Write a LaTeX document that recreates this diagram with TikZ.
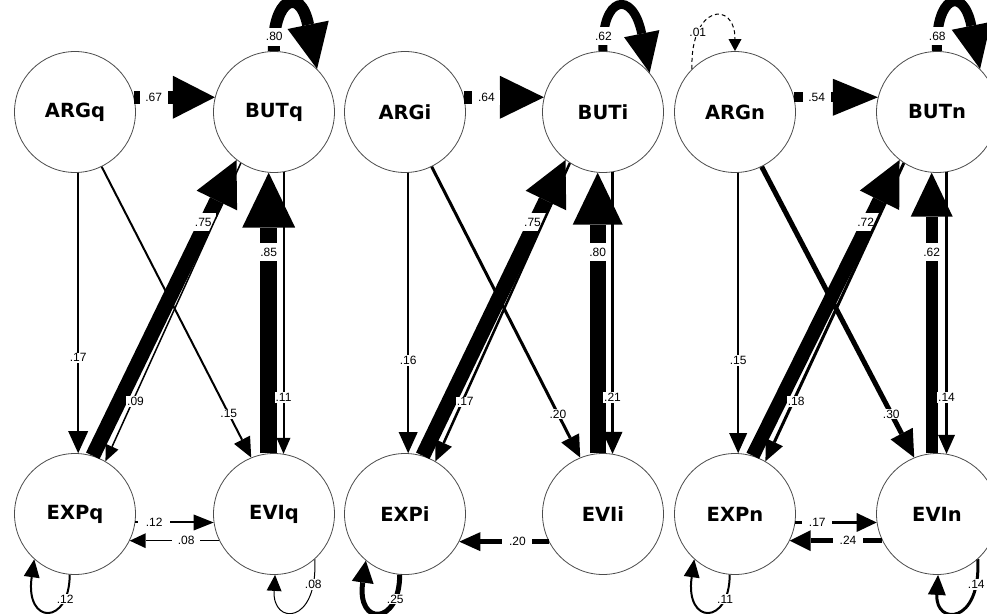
\documentclass[tikz,border=0pt]{standalone}
\usepackage{fontspec}
\setmainfont{DejaVu Sans}
\newfontfamily\labfont{Liberation Sans}
\usetikzlibrary{arrows.meta}
\tikzset{
  lv/.style={circle, draw=black!70, line width=0.8pt, fill=white, minimum size=121pt, inner sep=0pt, font=\bfseries\fontsize{19.5}{21}\selectfont},
  cn/.style n args={3}{line width=#1pt, -{Triangle[width=#2pt, length=#3pt, line width=0pt]}},
  lb/.style={font=\labfont\fontsize{12}{13}\selectfont, fill=white, inner sep=1pt},
  lbb/.style={lb, minimum width=24pt, minimum height=18pt},
  lbh/.style={lb, minimum width=28pt, minimum height=15pt},
  lbl/.style={lb, minimum width=20pt, minimum height=18pt},
}
\begin{document}
\begin{tikzpicture}[x=1pt, y=-1pt]
\useasboundingbox (0,0) rectangle (987,613);
\clip (0,0) rectangle (987,613);
\fill[white] (0,0) rectangle (987,613);

% ---------------- group q ----------------
\node[lv] (ARGq) at (75,112) {ARGq};
\node[lv] (BUTq) at (274,112) {BUTq};
\node[lv] (EXPq) at (75,514) {EXPq};
\node[lv] (EVIq) at (274,514) {EVIq};

\draw[cn={15}{45}{45}] (EXPq.73) -- node[lbb,pos=0.79,xshift=-3pt,minimum width=26pt]{.75} (BUTq.232);
\draw[cn={17}{53}{55}] (EVIq.95) -- node[lbb,pos=0.717]{.85} (BUTq.-95);
\draw[cn={2}{20}{22}] (ARGq.-87) -- node[lb,pos=0.66]{.17} (EXPq.87);
\draw[cn={2}{18}{20}] (ARGq.-64) -- node[lb,pos=0.85]{.15} (EVIq.112);
\draw[cn={1.5}{14}{16}] (BUTq.-123) -- node[lb,pos=0.8,xshift=3pt]{.09} (EXPq.60);
\draw[cn={2}{14}{16}] (BUTq.-81) -- node[lb,pos=0.8]{.11} (EVIq.81);
\draw[cn={13}{43}{42}] (ARGq.14) -- node[lbh,pos=0.243]{.67} (BUTq.166);
\draw[cn={2}{16}{20}] (EXPq.-8) -- node[lb,minimum width=32pt,pos=0.24]{.12} (EVIq.-172);
\draw[cn={1}{15}{16}] (EVIq.-154) -- node[lb,minimum width=28pt,pos=0.37]{.08} (EXPq.-26);
\draw[cn={12}{42}{45}] (BUTq.90) .. controls +(-2,-52) and +(-17,-84) .. node[lbl,pos=0.1]{.80} (BUTq.45);
\draw[cn={2}{16}{18}] (EXPq.-95) .. controls +(0,51) and +(-9.5,66) .. node[lb,pos=0.2]{.12} (EXPq.-132);
\draw[cn={1}{15}{16}] (EVIq.-48) .. controls +(3.5,66) and +(-3,50.5) .. node[lb,pos=0.15]{.08} (EVIq.-89);

% ---------------- group i ----------------
\node[lv] (ARGi) at (405,112) {ARGi};
\node[lv] (BUTi) at (603,112) {BUTi};
\node[lv] (EXPi) at (405,514) {EXPi};
\node[lv] (EVIi) at (603,514) {EVIi};

\draw[cn={15}{45}{45}] (EXPi.73) -- node[lbb,pos=0.79,xshift=-3pt,minimum width=26pt]{.75} (BUTi.232);
\draw[cn={16}{50}{52}] (EVIi.95) -- node[lbb,pos=0.717]{.80} (BUTi.-95);
\draw[cn={2}{19}{21}] (ARGi.-87) -- node[lb,pos=0.67]{.16} (EXPi.87);
\draw[cn={3}{20}{22}] (ARGi.-64) -- node[lb,pos=0.85]{.20} (EVIi.112);
\draw[cn={2.5}{18}{20}] (BUTi.-123) -- node[lb,pos=0.8,xshift=3pt]{.17} (EXPi.60);
\draw[cn={3}{20}{22}] (BUTi.-81) -- node[lb,pos=0.8]{.21} (EVIi.81);
\draw[cn={13}{43}{44}] (ARGi.14) -- node[lbh,pos=0.28]{.64} (BUTi.166);
\draw[cn={5}{19}{21}] (EVIi.-153) -- node[lb,minimum width=30pt,minimum height=12pt,pos=0.35]{.20} (EXPi.-27);
\draw[cn={9}{36}{40}] (BUTi.90) .. controls +(-2,-55) and +(-17,-84) .. node[lbl,pos=0.1]{.62} (BUTi.40);
\draw[cn={5}{22}{22}] (EXPi.-95) .. controls +(0,51) and +(-9.5,66) .. node[lb,pos=0.2]{.25} (EXPi.-130);

% ---------------- group n ----------------
\node[lv] (ARGn) at (735,112) {ARGn};
\node[lv] (BUTn) at (937,112) {BUTn};
\node[lv] (EXPn) at (735,514) {EXPn};
\node[lv] (EVIn) at (937,514) {EVIn};

\draw[cn={14}{44}{45}] (EXPn.73) -- node[lbb,pos=0.79,xshift=-3pt,minimum width=26pt]{.72} (BUTn.232);
\draw[cn={12}{42}{44}] (EVIn.95) -- node[lbb,pos=0.717]{.62} (BUTn.-95);
\draw[cn={2}{18}{20}] (ARGn.-87) -- node[lb,pos=0.67]{.15} (EXPn.87);
\draw[cn={5}{25}{27}] (ARGn.-64) -- node[lb,pos=0.85]{.30} (EVIn.112);
\draw[cn={3}{19}{21}] (BUTn.-123) -- node[lb,pos=0.8,xshift=3pt]{.18} (EXPn.60);
\draw[cn={2.5}{17}{19}] (BUTn.-81) -- node[lb,pos=0.8]{.14} (EVIn.81);
\draw[cn={10}{37}{45}] (ARGn.14) -- node[lbh,pos=0.27]{.54} (BUTn.166);
\draw[cn={3.5}{19}{20}] (EXPn.-8) -- node[lb,minimum width=30pt,pos=0.27]{.17} (EVIn.-172);
\draw[cn={5}{21}{21}] (EVIn.-154) -- node[lb,minimum width=30pt,minimum height=12pt,pos=0.37]{.24} (EXPn.-26);
\draw[cn={10}{40}{44}] (BUTn.90) .. controls +(-2,-55) and +(-17,-84) .. node[lbl,pos=0.1]{.68} (BUTn.45);
\draw[cn={2}{16}{18}] (EXPn.-95) .. controls +(0,51) and +(-9.5,66) .. node[lb,pos=0.2]{.11} (EXPn.-132);
\draw[cn={3}{18}{20}] (EVIn.-48) .. controls +(3.5,66) and +(-3,50.5) .. node[lb,pos=0.15]{.14} (EVIn.-89);
\draw[cn={1}{13}{12}, dash pattern=on 4pt off 3pt] (ARGn.135) .. controls +(-2,-64) and +(0,-51.5) .. node[lb,pos=0.25]{.01} (ARGn.90);
\end{tikzpicture}
\end{document}
